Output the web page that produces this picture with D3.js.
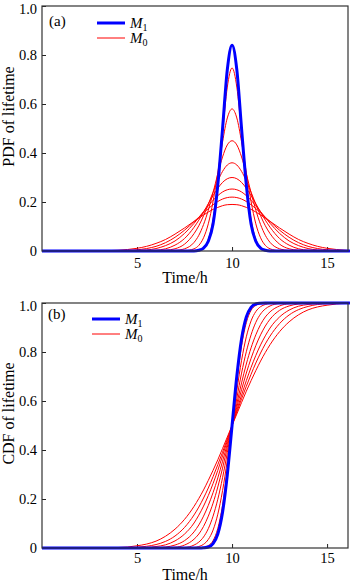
<!DOCTYPE html>
<html><head><meta charset="utf-8">
<script src="https://cdn.jsdelivr.net/npm/d3@7"></script>
<style>body{margin:0;background:#fff}svg{display:block}text{font-family:"Liberation Serif","Times New Roman",serif;fill:#000}</style>
</head><body><svg id="c" width="350" height="582"></svg>
<script>
// time grid (h)
const timeH = [0,3,4,4.5,5,5.5,6,6.5,7,7.5,8,8.25,8.5,8.75,9,9.25,9.5,9.75,10,10.25,10.5,10.75,11,11.25,11.5,11.75,12,12.5,13,13.5,14,14.5,15,15.5,16,16.2];

// PDF, model M1
const pdfM1 = [0,0,0,0,0,0,0,0,0,0,0,.003,.012,.04,.11,.27,.50,.74,.84,.74,.50,.27,.11,.04,.012,.003,0,0,0,0,0,0,0,0,0,0];
// PDF, model M0 family
const pdfM0 = [
 [0,0,0,0,0,0,0,0,0,0,.001,.004,.015,.048,.130,.279,.482,.669,.747,.669,.482,.279,.130,.048,.015,.004,.001,0,0,0,0,0,0,0,0,0],
 [0,0,0,0,0,0,0,0,0,.001,.009,.023,.054,.111,.202,.320,.445,.543,.58,.543,.445,.320,.202,.111,.054,.023,.009,.001,0,0,0,0,0,0,0,0],
 [0,0,0,0,0,0,0,0,.002,.009,.035,.064,.108,.167,.238,.315,.384,.433,.45,.433,.384,.315,.238,.167,.108,.064,.035,.009,.002,0,0,0,0,0,0,0],
 [0,0,0,0,0,0,.001,.003,.009,.028,.071,.103,.144,.191,.240,.286,.325,.351,.36,.351,.325,.286,.240,.191,.144,.103,.071,.028,.009,.003,.001,0,0,0,0,0],
 [0,0,0,0,0,.001,.003,.009,.024,.051,.097,.126,.159,.193,.226,.256,.280,.295,.30,.295,.280,.256,.226,.193,.159,.126,.097,.051,.024,.009,.003,.001,0,0,0,0],
 [0,0,0,.001,.002,.004,.010,.022,.041,.072,.113,.137,.161,.185,.207,.226,.241,.250,.253,.250,.241,.226,.207,.185,.161,.137,.113,.072,.041,.022,.010,.004,.002,.001,0,0],
 [0,0,.001,.002,.005,.010,.019,.034,.056,.085,.120,.138,.156,.173,.189,.202,.212,.218,.22,.218,.212,.202,.189,.173,.156,.138,.120,.085,.056,.034,.019,.010,.005,.002,.001,.001],
 [0,.001,.003,.006,.011,.019,.031,.047,.069,.094,.121,.134,.147,.159,.170,.178,.185,.189,.19,.189,.185,.178,.170,.159,.147,.134,.121,.094,.069,.047,.031,.019,.011,.006,.003,.002]
];

// CDF, model M1
const cdfM1 = [0,0,0,0,0,0,0,0,0,0,0,0,.001,.004,.018,.057,.146,.299,.5,.701,.854,.943,.982,.996,.999,1,1,1,1,1,1,1,1,1,1,1];
// CDF, model M0 family
const cdfM0 = [
 [0,0,0,0,0,0,0,0,0,0,0,.001,.003,.010,.030,.080,.175,.320,.5,.680,.825,.920,.970,.990,.997,.999,1,1,1,1,1,1,1,1,1,1],
 [0,0,0,0,0,0,0,0,0,0,.002,.006,.015,.035,.073,.138,.234,.358,.5,.642,.766,.862,.927,.965,.985,.994,.998,1,1,1,1,1,1,1,1,1],
 [0,0,0,0,0,0,0,0,0,.002,.012,.024,.045,.079,.130,.199,.287,.389,.5,.611,.714,.801,.870,.921,.955,.976,.988,.998,1,1,1,1,1,1,1,1],
 [0,0,0,0,0,0,0,.001,.003,.012,.036,.057,.088,.130,.183,.249,.326,.411,.5,.589,.674,.751,.817,.870,.912,.943,.964,.988,.997,.999,1,1,1,1,1,1],
 [0,0,0,0,0,0,.001,.004,.012,.030,.066,.094,.130,.174,.226,.286,.354,.425,.5,.575,.646,.714,.774,.826,.870,.906,.934,.970,.988,.996,.999,1,1,1,1,1],
 [0,0,0,0,.001,.002,.006,.013,.029,.057,.102,.134,.171,.214,.263,.317,.376,.437,.5,.563,.624,.683,.737,.786,.829,.866,.898,.943,.971,.987,.994,.998,.999,1,1,1],
 [0,0,.001,.001,.003,.007,.014,.027,.049,.084,.135,.167,.204,.245,.291,.340,.391,.445,.5,.555,.609,.660,.709,.755,.796,.833,.865,.916,.951,.973,.986,.994,.997,.999,1,1],
 [0,0,.002,.004,.009,.016,.028,.048,.077,.117,.170,.202,.237,.276,.317,.360,.406,.453,.5,.547,.594,.640,.683,.724,.763,.798,.830,.883,.923,.952,.972,.984,.991,.996,.998,.998]
];

const xTicks = [5,10,15];
const yTicks = [0,0.2,0.4,0.6,0.8,1.0];
const xDomain = [0,16.1];
const yDomain = [0,1];
const legendLabels = [{m:"M",s:"1"},{m:"M",s:"0"}];

const FONT = '"Liberation Serif","Times New Roman",serif';
const svg = d3.select("#c");
const L = 42, R = 348;
const x = d3.scaleLinear().domain(xDomain).range([L,R]);

function panel(top, bottom, tag, yTitle, blue, reds, tickPad, titleY, legX, legY, tagX, tagY){
  const y = d3.scaleLinear().domain(yDomain).range([bottom, top]);
  const g = svg.append("g");
  const fmt = d => d === 0 ? "0" : d3.format(".1f")(d);
  const xa = g.append("g").attr("transform",`translate(0,${bottom})`)
    .call(d3.axisBottom(x).tickValues(xTicks).tickSizeInner(-4).tickSizeOuter(0).tickPadding(tickPad));
  xa.attr("font-family",FONT).attr("font-size",14.5);
  xa.select(".domain").remove();
  xa.selectAll("line").attr("stroke","#222");
  const ya = g.append("g").attr("transform",`translate(${L},0)`)
    .call(d3.axisLeft(y).tickValues(yTicks).tickFormat(fmt).tickSizeInner(-4).tickSizeOuter(0).tickPadding(5));
  ya.attr("font-family",FONT).attr("font-size",14.5);
  ya.select(".domain").remove();
  ya.selectAll("line").attr("stroke","#222");
  ya.selectAll("text").attr("dy","0.3em");
  // top label sits slightly below the frame corner, as in the reference
  ya.selectAll(".tick").filter(d => d === 1).select("text").attr("y",3);

  const line = d3.line().x((d,i)=>x(timeH[i])).y(d=>y(d)).curve(d3.curveMonotoneX);
  reds.forEach(r => g.append("path").attr("d",line(r)).attr("fill","none").attr("stroke","#ff0000").attr("stroke-width",1));
  g.append("path").attr("d",line(blue)).attr("fill","none").attr("stroke","#0000ff").attr("stroke-width",3);

  g.append("rect").attr("x",L).attr("y",top).attr("width",R-L).attr("height",bottom-top)
    .attr("fill","none").attr("stroke","#333").attr("stroke-width",1.2);

  g.append("text").attr("x",tagX).attr("y",tagY).style("font-size","15px").text(tag);
  g.append("text").attr("transform",`translate(14,${(top+bottom)/2 - 12}) rotate(-90)`)
    .attr("text-anchor","middle").style("font-size","16px").text(yTitle);
  g.append("text").attr("x",185).attr("y",titleY).attr("text-anchor","middle")
    .style("font-size","16px").text("Time/h");

  const cols = ["#0000ff","#ff0000"], ws = [3,1];
  legendLabels.forEach((lab,i)=>{
    const ly = legY + i*15;
    g.append("line").attr("x1",legX).attr("x2",legX+28).attr("y1",ly).attr("y2",ly)
      .attr("stroke",cols[i]).attr("stroke-width",ws[i]);
    const t = g.append("text").attr("x",legX+33).attr("y",ly+5).style("font-size","15px");
    t.append("tspan").style("font-style","italic").text(lab.m);
    t.append("tspan").attr("dy",3).style("font-size","10px").text(lab.s);
  });
}

panel(6, 251, "(a)", "PDF of lifetime", pdfM1, pdfM0, 7, 283, 97, 23, 49, 26);
panel(303, 548, "(b)", "CDF of lifetime", cdfM1, cdfM0, 5, 580, 92, 319, 48, 319);
</script></body></html>
